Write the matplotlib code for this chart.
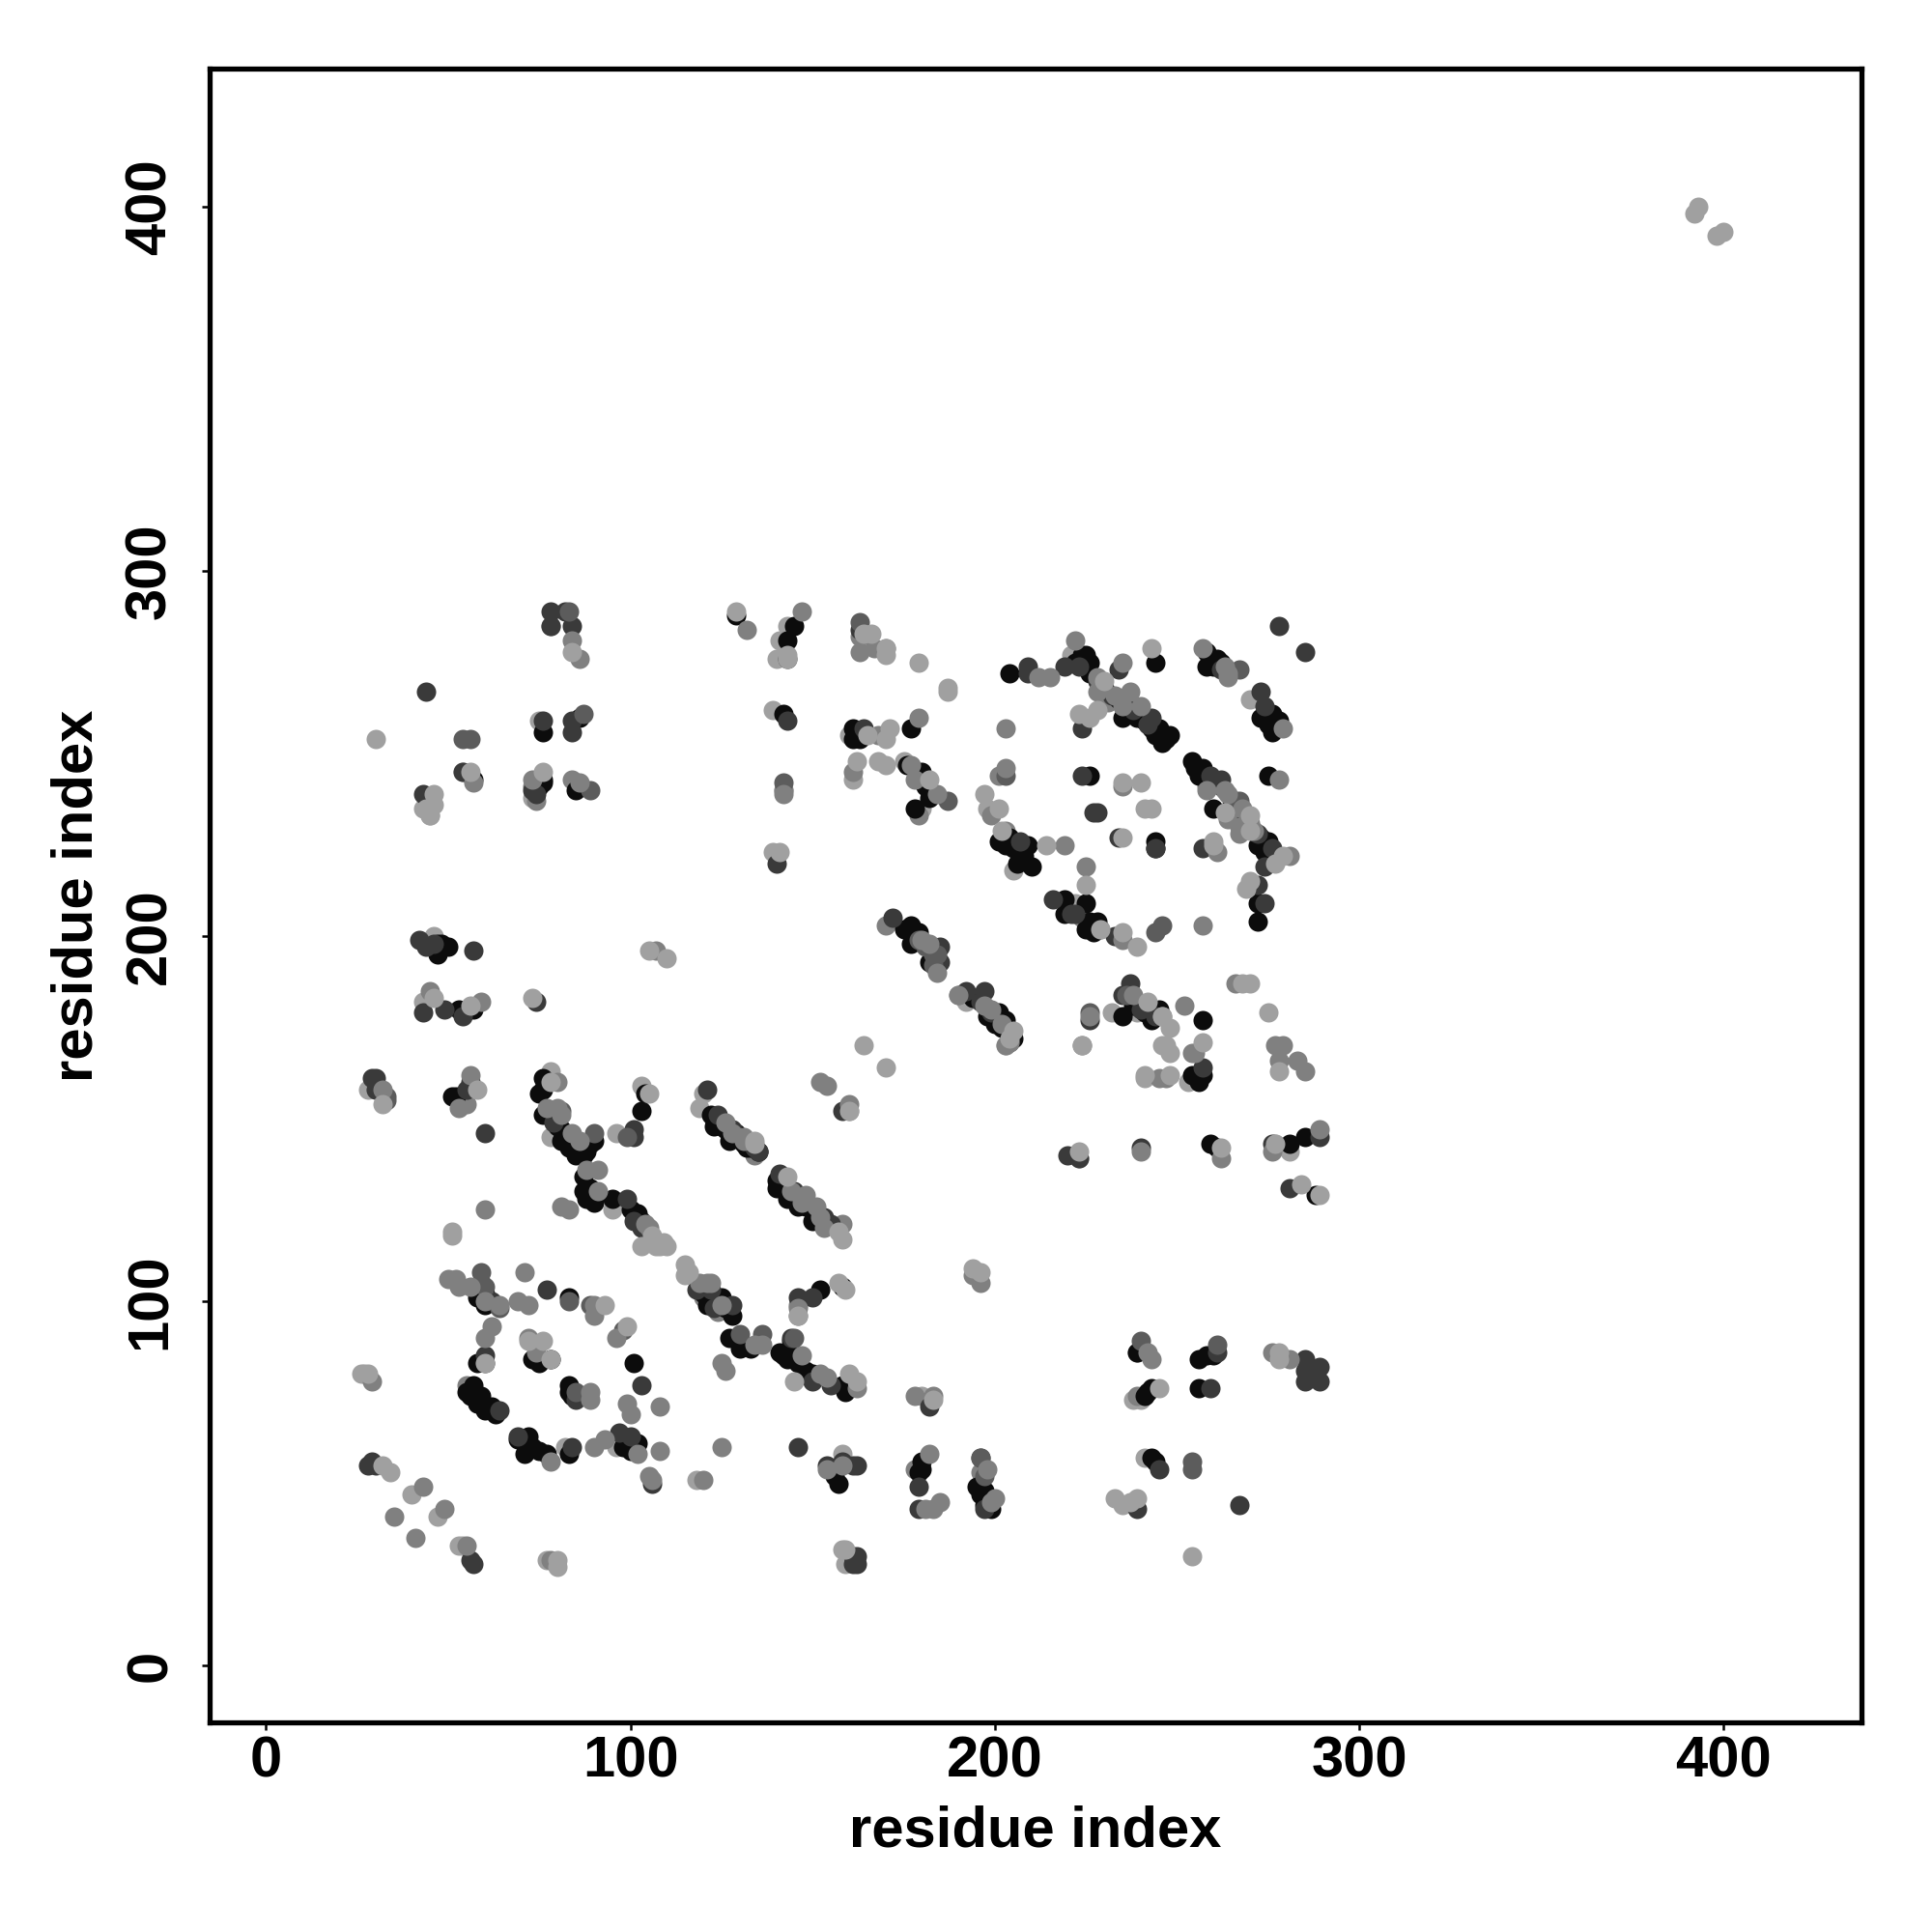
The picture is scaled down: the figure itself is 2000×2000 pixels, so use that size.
import matplotlib
matplotlib.use("Agg")
import matplotlib.pyplot as plt

# residue contact pairs (i, j), grouped by grey level
light_back = [
    (28,158),(27,80),(26,80),(119,153),(95,125),(78,145),(96,146),(78,163),(103,159),
    (53,33),(54,33),(40,47),(47,41),(77,29),(118,51),(82,60),(96,60),(120,157),
    (75,259),(54,245),(43,235),(45,233),(143,285),(141,281),(140,276),(139,223),(73,238),
    (43,182),(160,255),(161,243),(221,277),(198,235),(205,218),(222,209),(241,161),(180,74),
    (241,57),(158,58),(160,152),(223,139),(277,143),(281,141),(233,46),(235,44),(159,28),
    (270,265),(139,262),(142,240),(46,200),(253,160),(203,170),(192,182),(239,179),(232,179),
    (238,73),(240,73),(175,248),(180,235),
]
mid_back = [
    (55,77),(53,104),(72,90),(120,101),(124,97),(146,99),(55,154),(30,158),(142,240),
    (73,241),(84,243),(178,74),(239,86),(194,107),(196,105),(78,285),(163,278),(163,282),
    (196,53),(199,45),(153,121),(158,121),(170,203),(190,184),(201,244),(199,233),(178,54),
    (134,140),(254,168),(229,202),(252,181),(258,241),(264,232),(267,228),(179,233),(74,237),
    (231,264),(203,229),(224,205),(239,74),
]
black_pts = [
    (51,156),(52,156),(60,102),(58,101),(60,99),(58,83),(55,75),(57,77),(59,74),(56,74),
    (58,72),(60,70),(62,71),(63,69),(69,62),(72,63),(73,60),(75,59),(71,58),(77,58),
    (83,58),(98,60),(102,61),(100,59),(73,84),(75,83),(78,84),(83,77),(83,75),(84,74),
    (83,101),(101,83),(76,161),(76,158),(75,157),(76,151),(80,148),(81,147),(82,146),
    (83,145),(84,144),(85,143),(86,142),(87,141),(88,141),(89,143),(90,144),(103,152),
    (104,157),(122,151),(123,150),(124,149),(125,148),(126,147),(127,146),(130,145),
    (131,143),(133,142),(135,141),(87,134),(87,130),(89,131),(90,127),(88,128),(95,128),
    (100,125),(102,124),(103,122),(119,104),(120,102),(122,101),(124,100),(126,98),(128,96),
    (127,90),(130,87),(133,87),(141,86),(142,85),(143,84),(144,89),(145,84),(146,83),
    (148,81),(149,80),(152,103),(158,104),(160,76),(140,133),(142,131),(146,128),(148,126),
    (151,124),(154,121),(145,285),(143,281),(129,288),(76,256),(86,260),(142,261),(48,198),
    (47,195),(47,198),(50,197),(57,243),(76,242),(85,240),(53,180),(57,180),(76,243),
    (162,256),(161,254),(163,254),(161,257),(177,257),(204,272),(224,277),(226,275),(225,277),
    (222,275),(235,260),(240,260),(243,257),(245,257),(248,255),(244,255),(246,253),(247,254),
    (244,275),(258,278),(259,276),(258,274),(261,276),(260,274),(276,261),(273,260),(278,259),
    (276,256),(275,258),(254,248),(257,246),(256,244),(255,246),(258,244),(260,235),(226,244),
    (275,244),(273,227),(275,226),(274,223),(272,225),(244,226),(176,247),(180,245),(179,243),
    (181,241),(182,238),(178,235),
    (201,226),(204,227),(203,225),(209,225),(206,220),(210,219),(208,221),(219,210),(225,209),
    (219,206),(226,204),(227,201),(225,202),(228,204),(177,203),(179,201),(175,202),(177,198),
    (178,200),(182,193),(184,196),(201,179),(198,178),(203,177),(200,176),(202,175),(205,172),
    (235,178),(238,181),(243,177),(245,180),(257,177),(254,162),(256,160),(257,162),
    (244,224),(272,204),(272,209),(259,143),(261,142),(281,143),(285,145),(288,129),
    (256,84),(258,85),(260,85),(241,74),(243,76),(242,75),(239,86),(256,76),(180,54),
    (180,56),(179,53),(195,49),(197,48),(196,47),(199,43),(197,44),(156,52),(157,50),
    (243,57),(244,56),(158,77),(159,75),
    (226,272),(230,268),(234,265),(236,262),(239,260),(241,259),(262,275),(265,236),
    (205,224),(208,222),(129,146),(132,142),(123,148),(127,144),(140,131),(143,128),(146,126),
    (150,122),(121,99),(125,101),(81,144),(83,142),(85,140),(87,140),(150,80),(241,179),
    (194,183),(75,241),
]
dark_pts = [
    (29,161),(30,161),(30,158),(29,56),(30,55),(28,55),(56,29),(57,28),(55,158),(56,160),
    (60,146),(60,85),(77,103),(59,105),(62,100),(64,70),(69,63),(84,60),(85,73),(97,64),
    (100,63),(103,77),(99,128),(121,158),(135,141),(128,99),(122,103),(101,147),(101,145),
    (146,101),(150,101),(146,60),(144,90),(78,289),(82,289),(78,285),(84,285),(84,259),
    (84,256),(76,259),(44,267),(54,245),(43,239),(73,240),(143,276),(143,259),(140,220),
    (42,199),(44,197),(49,180),(43,179),(54,178),(74,182),(57,196),(163,284),(158,152),
    (164,257),(209,274),(209,272),(219,274),(223,274),(234,273),(243,260),
    (278,285),(285,278),(273,267),(274,263),(224,257),(224,244),(227,234),(228,234),(234,227),
    (244,224),(257,224),(272,214),(274,209),(274,219),(276,224),(259,244),(216,210),(221,206),
    (233,200),(172,205),(185,197),(185,193),(192,185),(197,185),(226,177),(237,187),(235,184),
    (257,164),(220,140),(223,139),(240,142),(276,143),(289,145),(281,131),(285,81),(285,84),
    (289,82),(285,78),(289,78),(261,86),(259,76),(154,55),(158,56),(161,55),(162,55),(179,49),
    (179,43),(196,57),(197,43),(245,54),(239,43),(267,44),(161,30),(162,30),(162,28),
    (161,28),(182,71),(204,171),(60,83),(106,50),(135,141),
    (228,270),(232,266),(238,262),(242,258),(262,273),(262,241),(262,243),(269,232),(272,228),
    (207,226),(222,206),(196,182),(199,179),(128,147),(134,142),(124,151),(141,135),(145,130),
    (153,123),(155,121),(101,122),(103,120),(118,103),(123,98),(79,149),(150,78),(155,77),
    (240,180),(244,178),(74,239),(46,198),
]
midd_pts = [
    (33,156),(33,155),(59,108),(64,98),(85,75),(90,146),(99,145),(136,91),(130,91),(145,90),
    (98,92),(89,99),(83,100),(56,254),(54,254),(87,261),(89,240),(83,289),(163,286),(203,244),
    (246,203),(244,201),(226,179),(240,89),(261,88),(254,56),(254,54),(196,57),(197,52),
    (267,273),(184,195),(183,192),(81,152),(60,104),(142,242),(267,237),(187,237),(266,237),
    (179,199),(181,197),(183,195),(236,184),
]
mid_front = [
    (80,160),(80,153),(77,153),(81,151),(56,162),(32,158),(53,153),(60,90),(62,93),(69,100),
    (71,108),(72,99),(90,99),(90,96),(96,90),(99,72),(100,69),(108,71),(89,73),(89,75),(78,56),
    (93,62),(90,60),(108,59),(105,52),(102,58),(106,51),(60,125),(81,126),(83,125),(125,83),
    (126,81),(125,60),(120,51),(29,78),(35,41),(41,35),(43,49),(49,43),(55,33),(78,29),
    (74,88),(74,86),(64,99),(52,106),(50,106),(56,104),(60,100),(104,121),(128,146),(131,144),
    (136,88),(134,88),(144,130),(147,127),(152,123),(153,120),(146,98),(160,154),(154,159),
    (152,160),(158,55),(198,54),(199,45),(200,46),(185,45),(182,58),(183,43),(181,43),(162,76),
    (183,74),(242,86),(243,84),(276,86),(281,84),(262,139),(276,141),(289,147),(240,141),
    (245,161),(247,161),(277,170),(279,170),(278,166),(283,166),(285,163),(226,178),(255,168),
    (203,257),(212,271),(215,271),(222,281),(228,271),(228,267),(233,266),(237,267),(235,263),
    (240,263),(235,275),(257,279),(263,274),(264,271),(279,257),(197,181),(190,184),(199,180),
    (238,184),(246,178),(203,170),(203,246),(225,219),(204,171),(219,225),(235,241),(278,243),
    (261,223),(263,240),(258,240),(267,230),(281,222),(235,199),(182,198),(180,199),(184,190),
    (168,255),(161,245),(179,260),(170,279),(167,279),(142,239),(59,182),(45,185),(86,276),
    (84,281),(147,289),(132,284),(57,242),(73,243),(86,242),(257,203),(266,187),(224,170),
    (107,196),(154,54),(146,96),(125,99),(122,105),(121,105),(119,105),
    (177,247),(178,243),(184,239),(264,239),(268,235),(270,231),(271,229),(264,272),(202,176),
    (126,149),(131,145),(148,129),(151,126),(91,130),(88,136),(91,136),(105,120),(84,146),(86,144),
    (147,85),(152,80),(154,79),
]
light_front = [
    (78,160),(32,154),(34,53),(32,55),(58,158),(105,157),(134,144),(106,118),(107,115),(109,116),
    (110,115),(115,110),(116,108),(115,107),(108,115),(51,119),(51,118),(28,80),(99,93),(60,83),
    (93,99),(78,84),(76,89),(72,89),(134,143),(143,134),(157,119),(158,117),(157,105),(159,103),
    (145,78),(146,96),(160,152),(160,80),(162,78),(183,73),(194,109),(196,108),(164,170),(170,164),
    (80,29),(80,27),(159,32),(158,32),(239,46),(237,45),(254,30),(245,76),(278,84),(262,142),
    (289,129),(284,132),(223,141),(241,162),(248,162),(247,170),(248,168),(246,170),(257,171),
    (278,86),(277,143),(278,163),(204,172),(205,174),(224,170),(275,179),(248,175),(246,178),
    (242,182),(268,187),(270,187),(239,197),(235,201),(229,202),(225,214),(214,225),(202,229),
    (201,235),(197,239),(179,275),(187,268),(187,267),(171,257),(165,255),(162,248),(168,248),
    (170,247),(170,254),(164,283),(170,279),(223,261),(226,260),(241,235),
    (243,235),(235,242),(235,227),(243,279),(260,226),(260,225),(270,233),(270,229),(263,234),
    (279,222),(277,220),(270,215),(269,213),(30,254),(56,245),(46,239),(46,236),(44,235),
    (45,233),(76,245),(129,289),(143,276),(143,277),(170,277),(166,283),(46,183),(56,181),
    (110,194),(73,183),(141,223),(105,196),(230,270),(228,262),(240,242),(393,400),(392,398),
    (398,392),(400,393),(84,278),(103,115),(182,243),
]

tick_vals = [0, 100, 200, 300, 400]
axis_name = "residue index"

plt.rcParams["font.family"] = ["Liberation Sans", "DejaVu Sans"]
plt.rcParams["font.weight"] = "bold"

fig = plt.figure(figsize=(10, 10), dpi=200)
ax = fig.add_axes([217 / 2000, 1 - 1783 / 2000, (1927 - 217) / 2000, (1783 - 71) / 2000])

# drawing order matters here, the dots overlap a lot
layers = [
    (light_back, "#a0a0a0"),
    (mid_back, "#808080"),
    (black_pts, "#0c0c0c"),
    (dark_pts, "#3a3a3a"),
    (midd_pts, "#5c5c5c"),
    (mid_front, "#808080"),
    (light_front, "#a0a0a0"),
]
for pts, col in layers:
    xs = [p[0] for p in pts]
    ys = [p[1] for p in pts]
    ax.scatter(xs, ys, s=52, c=col, linewidths=0, clip_on=True)

ax.set_xlim(-15.5, 437.8)
ax.set_ylim(-15.5, 437.8)
ax.set_xticks(tick_vals)
ax.set_yticks(tick_vals)
ax.tick_params(axis="x", length=3, width=0.9, pad=2, labelsize=21.5)
ax.tick_params(axis="y", length=3, width=0.9, pad=9, labelsize=21.5)
for lab in ax.get_yticklabels():
    lab.set_rotation(90)
    lab.set_va("center")
for sp in ax.spines.values():
    sp.set_linewidth(1.9)

ax.set_xlabel(axis_name, fontsize=21.5, fontweight="bold", labelpad=6)
ax.set_ylabel(axis_name, fontsize=21.5, fontweight="bold", labelpad=7.5)

fig.savefig("out.png", dpi=200)
